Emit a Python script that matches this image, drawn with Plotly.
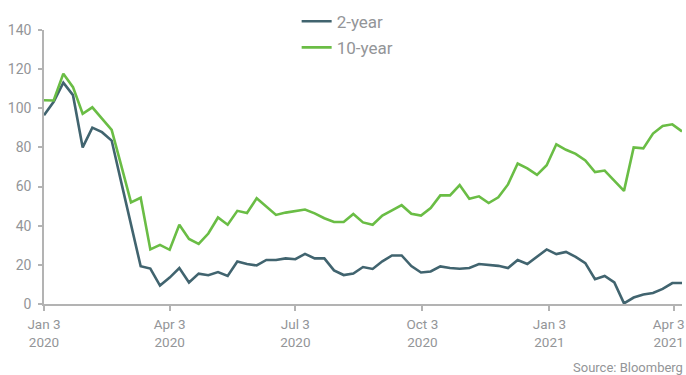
import pandas as pd
import plotly.graph_objects as go

dates = pd.date_range("2020-01-03", periods=67, freq="7D")

two_year = [96.4, 103.3, 113.1, 106.7, 80.0, 90.1, 87.8, 83.5, 62.0, 40.0,
            19.3, 18.1, 9.4, 13.5, 18.4, 11.0, 15.5, 14.7, 16.3, 14.3,
            21.7, 20.4, 19.7, 22.5, 22.5, 23.3, 22.9, 25.6, 23.3, 23.3,
            17.2, 14.8, 15.6, 18.9, 17.9, 21.8, 24.8, 24.8, 19.4, 16.1,
            16.6, 19.2, 18.4, 18.0, 18.4, 20.4, 19.9, 19.5, 18.4, 22.5,
            20.4, 24.1, 27.9, 25.5, 26.6, 24.1, 20.9, 12.7, 14.3, 11.0,
            0.3, 3.3, 4.9, 5.6, 7.7, 10.7, 10.7]

ten_year = [104.1, 104.0, 117.7, 110.8, 97.2, 100.5, 94.7, 89.0, 70.6, 51.9,
            54.3, 27.9, 30.2, 27.7, 40.5, 33.2, 30.7, 36.0, 44.2, 40.5,
            47.6, 46.5, 54.0, 49.6, 45.5, 46.7, 47.5, 48.3, 46.3, 43.8,
            41.9, 41.9, 46.0, 41.7, 40.5, 45.2, 47.8, 50.5, 46.1, 45.2,
            49.0, 55.5, 55.5, 60.8, 53.8, 55.0, 51.6, 54.5, 61.1, 71.8,
            69.3, 66.0, 70.9, 81.6, 78.8, 76.7, 73.4, 67.4, 68.2, 63.1,
            57.8, 80.0, 79.5, 87.1, 91.0, 91.8, 88.2]

NB = "\u00a0"
tick_dates = ["2020-01-03", "2020-04-03", "2020-07-03", "2020-10-03", "2021-01-03", "2021-04-03"]
tick_labels = ["Jan 3<br>2020", "Apr 3<br>2020", "Jul 3<br>2020", "Oct 3<br>2020",
               "Jan 3<br>2021", "Apr 3" + NB * 3 + "<br>2021" + NB * 3]
y_ticks = [0, 20, 40, 60, 80, 100, 120, 140]

GRAY = "#939598"
AXIS = "#b3b3b3"
FONT = "Liberation Sans Narrow, Roboto, sans-serif"

fig = go.Figure()
fig.add_trace(go.Scatter(x=dates, y=two_year, mode="lines", name="2-year",
                         legendgroup="a",
                         line=dict(color="#41646f", width=2.6)))
fig.add_trace(go.Scatter(x=dates, y=ten_year, mode="lines", name="10-year",
                         legendgroup="b",
                         line=dict(color="#6abd45", width=2.6)))

fig.update_layout(
    width=686, height=375,
    margin=dict(l=44, r=4, t=20, b=71),
    paper_bgcolor="white", plot_bgcolor="white",
    font=dict(family=FONT, color=GRAY),
    showlegend=True,
    legend=dict(x=0.396, y=1.096, xanchor="left", yanchor="top",
                font=dict(family="Roboto, sans-serif", size=17, color=GRAY),
                tracegroupgap=1, bgcolor="rgba(0,0,0,0)"),
    xaxis=dict(range=["2020-01-03", "2021-04-09"], tickvals=tick_dates, ticktext=tick_labels,
               showline=True, linecolor=AXIS, linewidth=1.5,
               ticks="outside", ticklen=5, tickcolor=AXIS, tickwidth=1.5,
               showgrid=False, zeroline=False, ticklabeloverflow="allow",
               ticklabelstandoff=2, automargin=False,
               tickfont=dict(family=FONT, size=13.5, color=GRAY)),
    yaxis=dict(range=[0, 140], tickvals=y_ticks,
               showline=True, linecolor=AXIS, linewidth=1.5,
               ticks="outside", ticklen=4, tickcolor=AXIS, tickwidth=1.5,
               showgrid=False, zeroline=False, ticklabelstandoff=4, automargin=False,
               tickfont=dict(family=FONT, size=14, color=GRAY)),
    annotations=[dict(text="Source: Bloomberg", xref="paper", yref="paper",
                      x=1.0, y=-0.232, xanchor="right", yanchor="middle", xshift=3,
                      showarrow=False, font=dict(family=FONT, size=13, color=GRAY))],
)

fig.write_html("out.html")
